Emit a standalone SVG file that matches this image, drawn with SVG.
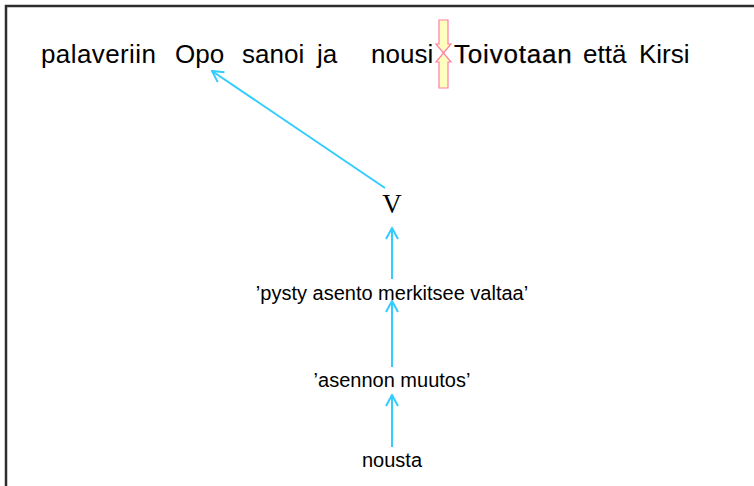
<svg xmlns="http://www.w3.org/2000/svg" width="754" height="486" viewBox="0 0 754 486">
  <style>
    .frame { stroke: #2e2e2e; stroke-width: 2.5; fill: none; }
    .sent { font-family: "Liberation Sans", Arial, sans-serif; font-size: 26px; fill: #000; }
    .heavy { stroke: #000; stroke-width: 0.25; letter-spacing: 0.8px; }
    .gloss { font-family: "Liberation Sans", Arial, sans-serif; font-size: 20px; fill: #000; text-anchor: middle; }
    .cat { font-family: "Liberation Serif", "Times New Roman", serif; font-size: 27px; fill: #000; text-anchor: middle; }
    .link { stroke: #33ccff; stroke-width: 2; fill: none; marker-end: url(#head); }
    .caret { fill: #ffffc0; stroke: #ff7f9f; stroke-width: 1.2; }
  </style>
  <defs>
    <marker id="head" viewBox="0 0 14 14" refX="13" refY="7" markerWidth="14" markerHeight="14" markerUnits="userSpaceOnUse" orient="auto">
      <path d="M2,1 L13,7 L2,13" fill="none" stroke="#33ccff" stroke-width="2"/>
    </marker>
  </defs>

  <rect width="754" height="486" fill="#fff"/>

  <!-- page frame: only top and left edges visible -->
  <path class="frame" d="M6,486 L6,6 L754,6"/>

  <!-- sentence line -->
  <g id="sentence">
    <text class="sent" x="41" y="63" letter-spacing="0.4">palaveriin</text>
    <text class="sent" x="175" y="63">Opo</text>
    <text class="sent" x="242" y="63">sanoi</text>
    <text class="sent" x="317" y="63">ja</text>
    <text class="sent" x="371" y="63">nousi</text>
    <text class="sent heavy" x="454" y="63">Toivotaan</text>
    <text class="sent" x="583" y="63">että</text>
    <text class="sent" x="639" y="63">Kirsi</text>
  </g>

  <!-- insertion caret between two words -->
  <g id="caret">
    <path class="caret" d="M439,20 L448,20 L448,44 L451,44 L443.5,53 L436,44 L439,44 Z"/>
    <path class="caret" d="M439,88 L448,88 L448,62 L451,62 L443.5,53 L436,62 L439,62 Z"/>
  </g>

  <g id="node-v">
    <text class="cat" x="392" y="213">V</text>
  </g>
  <g id="node-pysty">
    <text class="gloss" x="392" y="300">’pysty asento merkitsee valtaa’</text>
  </g>
  <g id="node-asennon">
    <text class="gloss" x="392" y="387">’asennon muutos’</text>
  </g>
  <g id="node-nousta">
    <text class="gloss" x="392" y="467">nousta</text>
  </g>

  <g id="connectors">
    <line class="link" x1="385" y1="188" x2="212" y2="71"/>
    <line class="link" x1="392" y1="279" x2="392" y2="228"/>
    <line class="link" x1="392" y1="367" x2="392" y2="301"/>
    <line class="link" x1="392" y1="447" x2="392" y2="395"/>
  </g>
</svg>
